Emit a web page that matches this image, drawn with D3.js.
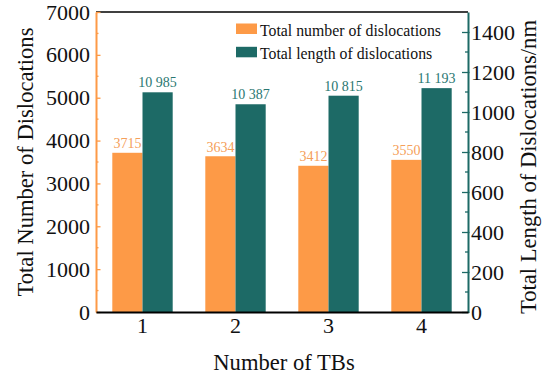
<!DOCTYPE html>
<html>
<head>
<meta charset="utf-8">
<script src="https://cdn.jsdelivr.net/npm/d3@7/dist/d3.min.js"></script>
<style>
  html, body { margin: 0; padding: 0; background: #fff; }
  svg { display: block; }
  svg text { font-family: "Liberation Serif", "Times New Roman", serif; }
</style>
</head>
<body>
<svg id="chart" width="548" height="376"></svg>
<script>
// Dislocation statistics for structures with 1-4 twin boundaries
const categories = ["1", "2", "3", "4"];
const dislocationCounts = [3715, 3634, 3412, 3550];
const dislocationLengths = [10985, 10387, 10815, 11193];
const seriesNames = ["Total number of dislocations", "Total length of dislocations"];

const leftTicks = [0, 1000, 2000, 3000, 4000, 5000, 6000, 7000];
const leftMinorTicks = [500, 1500, 2500, 3500, 4500, 5500, 6500];
const rightTicks = [0, 2000, 4000, 6000, 8000, 10000, 12000, 14000];
const rightTickLabels = ["0", "200", "400", "600", "800", "1000", "1200", "1400"];
const rightMinorTicks = [1000, 3000, 5000, 7000, 9000, 11000, 13000];

const ORANGE = "#fd9a47";
const TEAL = "#1d6a66";
const ORANGE_TEXT = "#f5a05a";
const TEAL_TEXT = "#2a7771";
const SERIF = "Liberation Serif";

const svg = d3.select("#chart");
const plotLeft = 96, plotRight = 468, plotTop = 12, plotBottom = 312;

const x = d3.scaleBand().domain(categories).range([plotLeft, plotRight]).padding(0);
const sub = d3.scaleBand().domain(["count", "length"]).range([0, x.bandwidth()])
  .paddingInner(0).paddingOuter(0.54);
const yLeft = d3.scaleLinear().domain([0, 7000]).range([plotBottom, plotTop]);
const yRight = d3.scaleLinear().domain([0, 15000]).range([plotBottom, plotTop]);

// bars
svg.append("g").selectAll("rect").data(dislocationCounts).join("rect")
  .attr("x", (d, i) => x(categories[i]) + sub("count"))
  .attr("y", d => yLeft(d))
  .attr("width", sub.bandwidth())
  .attr("height", d => plotBottom - yLeft(d))
  .attr("fill", ORANGE);

svg.append("g").selectAll("rect").data(dislocationLengths).join("rect")
  .attr("x", (d, i) => x(categories[i]) + sub("length"))
  .attr("y", d => yRight(d))
  .attr("width", sub.bandwidth())
  .attr("height", d => plotBottom - yRight(d))
  .attr("fill", TEAL);

// value labels
const spaced = d3.formatLocale({ decimal: ".", thousands: " ", grouping: [3], currency: ["", ""] }).format(",");
svg.append("g").selectAll("text").data(dislocationCounts).join("text")
  .attr("x", (d, i) => x(categories[i]) + sub("count") + sub.bandwidth() / 2)
  .attr("y", d => yLeft(d) - 4.5)
  .attr("text-anchor", "middle")
  .attr("font-family", SERIF)
  .attr("font-size", 14)
  .attr("fill", ORANGE_TEXT)
  .text(d => d);
svg.append("g").selectAll("text").data(dislocationLengths).join("text")
  .attr("x", (d, i) => x(categories[i]) + sub("length") + sub.bandwidth() / 2)
  .attr("y", d => yRight(d) - 5)
  .attr("text-anchor", "middle")
  .attr("font-family", SERIF)
  .attr("font-size", 14)
  .attr("fill", TEAL_TEXT)
  .text(d => spaced(d));

// top frame line
svg.append("line")
  .attr("x1", plotLeft).attr("x2", plotRight).attr("y1", plotTop).attr("y2", plotTop)
  .attr("stroke", "#000").attr("stroke-width", 1.6);

// left axis
const gL = svg.append("g").attr("transform", `translate(${plotLeft},0)`)
  .call(d3.axisLeft(yLeft).tickValues(leftTicks).tickFormat(d3.format("d"))
    .tickSizeInner(-4.5).tickSizeOuter(0).tickPadding(6));
gL.select(".domain").attr("stroke", ORANGE).attr("stroke-width", 2);
gL.selectAll(".tick line").attr("stroke", ORANGE).attr("stroke-width", 1.3);
gL.selectAll(".tick text").attr("font-size", 22).attr("fill", "#111")
  .attr("font-family", SERIF);
gL.selectAll(".minor").data(leftMinorTicks).join("line").attr("class", "minor")
  .attr("x1", 0).attr("x2", 2.5).attr("y1", d => yLeft(d)).attr("y2", d => yLeft(d))
  .attr("stroke", ORANGE).attr("stroke-width", 1.3);

// right axis
const gR = svg.append("g").attr("transform", `translate(${plotRight},0)`)
  .call(d3.axisRight(yRight).tickValues(rightTicks).tickSizeInner(-6).tickSizeOuter(0).tickPadding(3)
    .tickFormat((d, i) => rightTickLabels[i]));
gR.select(".domain").attr("stroke", TEAL).attr("stroke-width", 2);
gR.selectAll(".tick line").attr("x1", 1.5).attr("stroke", TEAL).attr("stroke-width", 1.3);
gR.selectAll(".tick text").attr("font-size", 22).attr("fill", "#111")
  .attr("font-family", SERIF);
gR.selectAll(".minor").data(rightMinorTicks).join("line").attr("class", "minor")
  .attr("x1", 0).attr("x2", -3).attr("y1", d => yRight(d)).attr("y2", d => yRight(d))
  .attr("stroke", TEAL).attr("stroke-width", 1.3);

// bottom axis
const gB = svg.append("g").attr("transform", `translate(0,${plotBottom})`)
  .call(d3.axisBottom(x).tickSize(0).tickPadding(0));
gB.select(".domain").attr("stroke", "#000").attr("stroke-width", 2);
gB.selectAll(".tick text").attr("font-size", 22).attr("fill", "#111")
  .attr("font-family", SERIF)
  .attr("dy", 0).attr("y", 21);

// axis titles
svg.append("text")
  .attr("transform", "translate(33,162) rotate(-90)")
  .attr("text-anchor", "middle").attr("font-size", 22.6).attr("fill", "#111")
  .attr("font-family", SERIF)
  .text("Total Number of Dislocations");
svg.append("text")
  .attr("transform", "translate(536,167) rotate(-90)")
  .attr("text-anchor", "middle").attr("font-size", 22.6).attr("fill", "#111")
  .attr("font-family", SERIF)
  .text("Total Length of Dislocations/nm");
svg.append("text")
  .attr("x", 284).attr("y", 370)
  .attr("text-anchor", "middle").attr("font-size", 22.6).attr("fill", "#111")
  .attr("font-family", SERIF)
  .text("Number of TBs");

// legend
const legend = svg.append("g").attr("transform", "translate(236,23.5)");
const legendItems = legend.selectAll("g").data(seriesNames).join("g")
  .attr("transform", (d, i) => `translate(0,${i * 23.3})`);
legendItems.append("rect").attr("width", 21).attr("height", 10.5)
  .attr("fill", (d, i) => i === 0 ? ORANGE : TEAL);
legendItems.append("text").attr("x", 24).attr("y", 12.5)
  .attr("font-family", SERIF)
  .attr("font-size", 15.8).attr("fill", "#111").text(d => d);
</script>
</body>
</html>
